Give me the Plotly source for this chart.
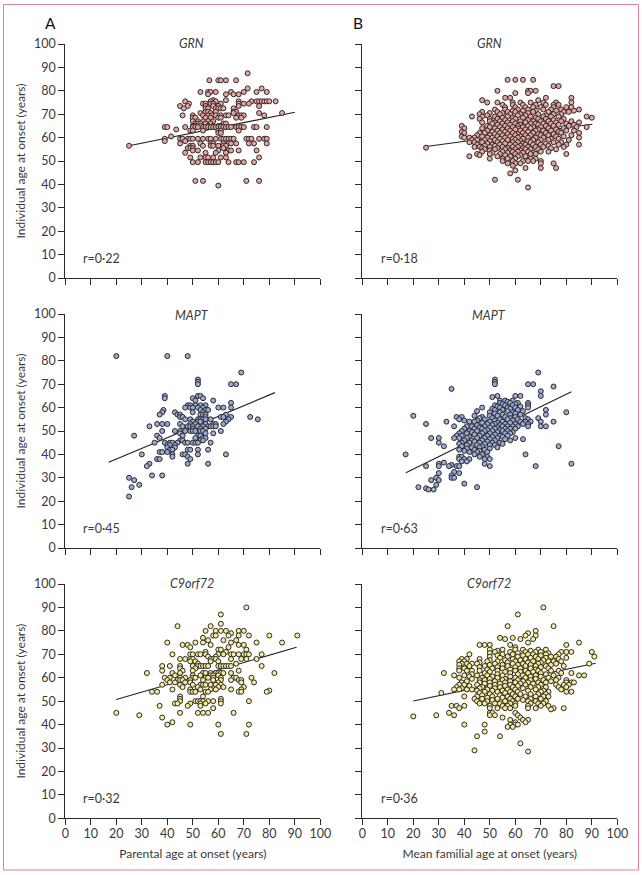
"""Age at onset scatter plots: individual against parental and mean familial age."""

import plotly.graph_objects as go
from plotly.subplots import make_subplots

# Points are kept as (individual age, [parental or familial ages at that age])
grn_parental = [
    (87.5, [71.5]), (84.5, [56.5, 60, 61, 63, 67]), (81, [71.5, 77]),
    (79.5, [53, 56, 57, 59, 65, 70, 75, 79]), (78.5, [56, 63, 66, 68]), (76, [58, 63]),
    (75.5, [47, 57, 59, 68, 73, 75, 76, 77, 78, 79, 80, 82.5]),
    (74.5, [48.5, 54, 55, 57, 58, 61, 68, 70, 72]), (73.5, [45, 48, 55, 58, 60, 68, 76]),
    (72.5, [46.5, 55, 56, 59, 60, 61, 62, 66]), (71, [55, 56, 59, 66, 67]),
    (70.5, [53, 57, 66, 76, 85]),
    (69.5, [46, 50, 54, 56, 57.5, 59, 61, 63, 64, 68, 69, 70, 78]),
    (68.5, [50, 51, 55, 57, 60, 61, 67, 69]), (67, [50, 52, 54, 56, 58]),
    (66, [51, 52, 53, 55, 57, 62, 63]), (65, [50, 51, 53, 56, 58, 60, 61]),
    (64.5, [39, 40, 47, 50, 51, 52, 54, 55, 56, 57, 58, 59, 60, 61, 62, 63, 64, 65, 67,
            68, 69, 70, 74, 75, 79]),
    (63.5, [43.5]), (63, [49, 50, 54, 60, 61, 68]), (62, [60, 61]), (60.5, [41.5]),
    (59.5, [39, 45, 46, 48, 49, 50, 52, 54, 56, 57, 59, 61, 62, 63, 64, 65, 66, 71, 72,
            73, 76, 78, 79]),
    (58.5, [39, 47]), (57.5, [45, 53, 57, 58, 62, 64, 65, 67, 72, 74, 79]),
    (56.5, [25, 49, 50, 54, 57, 58, 60, 62, 63]), (55.5, [48, 49, 50, 62]),
    (54.5, [50, 52, 60, 64, 65, 68, 75]), (53.5, [47, 55, 59, 63]),
    (51.5, [49, 53, 55, 56, 58, 61, 63, 76]),
    (49.5, [50, 52, 55, 56, 57, 58, 59, 60, 64, 67, 68, 70, 74]),
    (41.5, [51, 54, 71, 76]), (39.5, [60]),
]
grn_familial = [
    (84.7, [57, 60, 63, 67]), (82, [75, 77]), (80, [53, 65, 66, 68]), (79, [60, 65]),
    (77, [56, 58, 72, 82]), (76, [47, 69]), (75, [49, 53, 59, 62, 66, 71, 76, 82]),
    (74, [55, 59, 63, 68, 72, 75, 77]), (73, [56, 60, 64, 67, 70, 75, 80, 82]),
    (72, [52, 56, 61, 65, 71, 74, 78, 85]), (71.5, [59, 63, 68, 76, 83]),
    (71, [47, 53, 57, 60, 67, 73, 79, 81]), (70.5, [50, 55, 65]),
    (70, [46, 54, 58, 62, 69, 75, 78]), (69.5, [49, 61, 64, 72]),
    (69, [43, 47, 52, 57, 66, 71, 74, 77, 88]), (68.5, [55, 59, 63, 68, 90]),
    (68, [46, 50, 53, 60, 69, 72, 79]), (67.5, [56, 65, 75]),
    (67, [50, 54, 59, 62, 67, 70, 73, 78, 82]), (66.5, [47, 52, 57, 64, 76, 85]),
    (66, [51, 55, 60, 66, 68, 71, 74, 80]), (65.5, [53, 58, 62, 69, 77, 83]),
    (65, [39, 49, 56, 61, 65, 72, 75, 81]), (64.5, [50, 54, 59, 63, 67, 70, 84, 88]),
    (64, [40, 47, 52, 57, 61, 66, 73, 79]), (63.5, [55, 60, 64, 69, 76]),
    (63, [49, 53, 58, 62, 68, 71, 74, 80, 83]), (62.5, [39, 51, 56, 65, 77]),
    (62, [40, 46, 48, 54, 59, 63, 67, 72, 78, 85]), (61.5, [52, 57, 61, 69, 75]),
    (61, [45, 50, 55, 60, 64, 66, 70, 73, 82]), (60.5, [39, 47, 53, 58, 62, 76, 79]),
    (60, [40, 42, 44, 49, 51, 56, 61, 65, 68, 71, 85]), (59.5, [54, 59, 63, 74, 77]),
    (59, [43, 45, 48, 52, 57, 60, 67, 70, 73, 81]), (58.5, [50, 55, 62, 65]),
    (58, [42, 44, 47, 53, 59, 61, 66, 69, 75, 78]), (57.5, [49, 56, 63, 72]),
    (57, [45, 51, 54, 58, 60, 64, 67, 70, 77, 80, 85]), (56.5, [48, 52, 62, 73]),
    (56, [44, 46, 50, 55, 59, 61, 65, 68, 71, 79]), (55.7, [25]),
    (55.5, [47, 53, 57, 63, 74]), (55, [48, 52, 56, 60, 64, 66, 69, 76]),
    (54.5, [50, 58, 62]), (54, [47, 55, 59, 61, 65, 70, 73]), (53.5, [51, 57, 63, 67]),
    (53, [45, 50, 54, 60, 66, 68, 80]), (52.5, [46, 56, 62]), (52, [42, 53, 58, 61, 64]),
    (51, [50, 55, 57, 60, 66, 68]), (50, [55, 59, 63, 65, 67, 70]),
    (49, [57, 60, 62, 70, 75]), (48, [59]), (47, [64, 70, 76]), (46, [60]), (44.7, [58]),
    (42, [52, 61]), (38.7, [65]),
]
mapt_parental = [
    (82, [20, 40, 48]), (75, [69]), (72, [52]), (71, [52]), (70, [52, 65, 67]),
    (65, [39, 52, 53]), (64, [39, 50, 54]), (63, [51, 58]), (62, [65]),
    (61, [48, 49, 51, 53, 55]), (60, [47, 49, 50, 52, 54, 60, 62, 65]),
    (59, [38.5, 53, 55, 56]), (58, [38, 43, 50, 54]), (57, [37, 44, 45, 53, 54, 55, 63]),
    (56, [45, 46, 55, 61, 62, 65, 72.5]), (55, [47, 49, 52, 53, 54, 55, 57, 64, 75.5]),
    (54, [50, 52, 53, 63]), (53, [36, 38, 40, 45, 49, 51, 55, 58, 59, 62]),
    (52, [33, 46, 48, 49, 50, 52, 54, 56, 57, 58, 59]), (51, [50, 53, 55]),
    (50, [38, 43, 45, 47, 49, 50, 51, 53, 54, 61]), (49, [45, 55, 58]),
    (48, [27, 36, 46, 52, 53]), (47, [37, 51, 54, 55]), (46, [45, 46, 53, 54]),
    (45, [35, 39, 41, 42, 44, 47, 48, 50, 51, 52, 57]), (44, [40, 41, 43]), (43, [40, 43]),
    (42, [41, 42, 48, 49, 52, 56]), (41, [37, 38, 40]), (40, [30, 42, 46, 47, 52, 63]),
    (39, [42, 48]), (38, [36, 37, 49]), (36, [33, 48, 56]), (35, [32]), (31, [34, 38]),
    (30, [25]), (29, [27]), (27, [29]), (26, [26]), (22, [25]),
]
mapt_familial = [
    (75, [69]), (72, [52]), (71, [52]), (70, [52, 65, 67]), (69, [75]), (68, [35]), (67, [70]),
    (65, [53, 60, 62, 70]), (64.5, [51]), (63, [54, 56, 59]), (62.5, [57]),
    (62, [54, 58, 61, 65]), (61.5, [55, 60]), (61, [52, 56, 59, 65]), (60.5, [53, 62]),
    (60, [47, 54, 57, 60, 65]), (59.5, [51, 58]), (59, [52, 55, 61, 72]),
    (58.5, [45, 57, 63]), (58, [50, 54, 59, 80]), (57.5, [52, 60]), (57, [55, 58, 62, 72]),
    (56.5, [20, 44, 50, 53]), (56, [37, 39, 47, 56, 60]), (55.5, [46, 51, 58, 64, 69]),
    (55, [38, 48, 54, 57, 61, 65]), (54.5, [40, 45, 52, 59]),
    (54, [33, 42, 44, 50, 55, 62, 64, 66, 70, 75]), (53.5, [47, 53, 58]),
    (53, [25, 49, 52, 56, 60, 63, 65]), (52.5, [45, 51, 54]),
    (52, [36, 41, 43, 48, 55, 57, 59, 61, 65, 70, 72]), (51.5, [46, 50, 53]),
    (51, [40, 44, 47, 52, 56, 58, 60]), (50.5, [49, 54]), (50, [39, 42, 45, 48, 51, 55, 57]),
    (49.5, [43, 53, 59]), (49, [38, 41, 47, 50, 56, 58]), (48.5, [44, 52]),
    (48, [37, 39, 46, 49, 54, 57]), (47.5, [42, 51, 55]),
    (47, [27, 30, 36, 38, 41, 45, 48, 53, 60]), (46.5, [50, 56, 63]),
    (46, [40, 43, 47, 52, 58]), (45.5, [44, 49]), (45, [30, 39, 42, 46, 51, 54]),
    (44.5, [38, 48, 55]), (44, [41, 45, 50, 52]), (43.5, [32, 39, 47, 77]), (43, [43, 46, 53]),
    (42.5, [41, 50]), (42, [38, 44, 48]), (41.5, [40, 46]), (41, [42, 45, 49]),
    (40, [17, 44, 47, 64]), (39, [38, 39, 46, 49]), (38, [38, 40, 42, 48, 50]), (37, [39, 41]),
    (36.5, [32]), (36, [30, 48, 82]), (35.5, [35]), (35, [25, 30, 34, 37, 38, 50, 68]),
    (32.5, [36]), (32, [30, 38]), (31, [35]), (30, [29, 35, 36]), (29, [27, 30]),
    (27.5, [40]), (27, [29]), (26, [22, 45]), (25.5, [25]), (25, [26, 28]),
]
c9_parental = [
    (90, [71]), (87, [61]), (83, [61]), (82, [44, 57]), (80, [55, 59, 61, 63, 68, 70]),
    (79, [65]), (78, [58, 59, 64, 68, 72, 80, 91]), (77, [54]), (76, [56, 62, 67]),
    (75, [40, 51, 54, 65, 75, 85]), (74, [46, 48, 57, 68, 70]), (73, [49, 64]),
    (72, [60, 61, 71]), (71, [55, 63]),
    (70, [42, 49, 50, 52, 53, 55, 60, 62, 65, 66, 68, 70, 71, 72, 77]), (69, [56, 59]),
    (68, [45, 47, 49, 50, 57, 58, 59, 65, 69, 71, 75]), (67, [49, 51, 57, 60]),
    (66, [52, 67]), (65, [38, 41, 45, 50, 52, 53, 54, 55, 56, 60, 61, 62, 63, 64, 65, 77]),
    (64, [45, 51]), (63, [38, 46, 50, 68]),
    (62, [32, 42, 45, 54, 55, 57, 59, 60, 61, 62, 65, 82]), (61, [43, 50, 53, 57, 58, 60]),
    (60, [39, 41, 45, 47, 50, 51, 55, 56, 58, 61, 66, 67, 73]),
    (59, [40, 44, 45, 46, 49, 54, 58, 61, 65, 68, 69]), (58, [41, 43, 47, 49, 60, 69, 74]),
    (57, [38, 45, 50, 53, 54, 55, 57, 59, 61]), (56, [46, 52, 60, 62, 70]),
    (55, [42, 49, 53, 57, 59, 65, 69]), (54.5, [80]),
    (54, [34, 36, 49, 50, 51, 55, 56, 68, 69, 79]), (52, [45, 54]), (51, [45, 61]),
    (50, [45, 51, 52, 53, 54, 56, 58, 61, 72]), (49, [43, 44, 49, 53, 55, 61]),
    (48, [37, 48, 53]), (47, [58]), (45, [20, 45, 52, 54, 56, 66]), (44, [29]), (43, [38]),
    (41, [42]), (40, [40, 49, 60, 72]), (36, [61, 71]),
]
c9_familial = [
    (90, [71]), (87, [61]), (82, [57, 75]), (80, [68]), (79, [65]), (78, [64, 68]),
    (77, [54, 59]), (76.5, [56, 62, 67]), (75, [65, 85]), (74, [46, 48, 50, 58, 80]),
    (73, [60]), (72, [50, 55, 60, 63, 69, 72]), (71.5, [53, 66]),
    (71, [52, 58, 64, 68, 70, 78, 80, 82, 90]), (70.5, [50, 61, 73]),
    (70, [42, 55, 59, 65, 67, 72, 77]), (69.5, [53, 63, 70]),
    (69, [50, 57, 61, 68, 74, 76, 91]), (68.5, [54, 66, 72, 80]),
    (68, [39, 41, 46, 59, 64, 69, 77]), (67.5, [50, 56, 62, 71]),
    (67, [38, 40, 49, 53, 60, 67, 73, 75, 78]), (66.5, [46, 57, 65, 70]),
    (66, [39, 41, 43, 45, 52, 59, 63, 69, 76, 89]), (65.5, [38, 50, 55, 61, 66, 74]),
    (65, [42, 48, 57, 64, 68, 72, 79]), (64.5, [46, 53, 60, 70]),
    (64, [38, 40, 51, 55, 62, 66, 73]), (63.5, [49, 58, 68]),
    (63, [38, 41, 43, 46, 53, 60, 64, 69, 74, 77]), (62.5, [50, 56, 62, 67]),
    (62, [32, 48, 58, 65, 70, 78, 82]), (61.5, [43, 53, 61, 72]),
    (61, [36, 40, 45, 49, 55, 63, 68, 75, 85, 87]), (60.5, [42, 51, 58, 66, 70]),
    (60, [38, 47, 53, 60, 64, 73, 77]), (59.5, [43, 50, 56, 68]),
    (59, [46, 48, 55, 61, 66, 71, 76, 80]), (58.5, [41, 52, 58, 63, 74]),
    (58, [39, 46, 50, 56, 60, 65, 69, 72, 80, 82, 83]), (57.5, [48, 54, 62, 67]),
    (57, [38, 40, 45, 52, 58, 64, 70, 76, 79, 81]), (56.5, [42, 50, 56, 61]),
    (56, [37, 47, 54, 59, 66, 69, 72, 77, 80]), (55.5, [39, 46, 52, 63]),
    (55, [36, 38, 41, 43, 49, 57, 60, 68, 78]), (54.5, [45, 51, 55, 65, 71]),
    (54, [48, 53, 58, 61, 70, 73, 80, 82]), (53.5, [31, 46, 56]),
    (53, [50, 59, 62, 66, 69, 72]), (52.5, [47, 54]), (52, [40, 45, 51, 57, 60, 64, 68, 71, 73]),
    (51.5, [49, 55]), (51, [44, 47, 53, 58, 61, 66, 70]), (50.5, [51, 63]),
    (50, [45, 49, 56, 59, 65, 68, 72]), (49, [46, 48, 52, 54, 58, 60, 66, 69, 71]),
    (48, [35, 37, 40, 50, 55, 57, 60, 65, 70, 73]), (47, [38, 50, 53, 56, 58, 65, 68, 75, 79]),
    (46.5, [74]), (45, [34, 50, 51, 60]), (44, [29, 36, 50, 52, 61]), (43.5, [20]),
    (43, [55, 62]), (42, [58, 63, 65]), (41, [60, 64]), (40, [40, 48, 58, 60, 61]),
    (39, [57, 59]), (37, [48]), (35, [45, 54]), (32, [62]), (29, [44]), (28.5, [65]),
]

# Fitted lines, start and end of each
grn_parental_line = ([25, 90], [56.5, 70.8])
grn_familial_line = ([25, 90.2], [56.2, 65.7])
mapt_parental_line = ([17, 82.2], [36.6, 66.4])
mapt_familial_line = ([17.1, 82], [32.2, 66.8])
c9_parental_line = ([20, 90.7], [50.7, 73])
c9_familial_line = ([20, 91.5], [50.1, 66.2])

ticks = list(range(0, 101, 10))
r_labels = ["r=0·22", "r=0·18", "r=0·45", "r=0·63", "r=0·32", "r=0·36"]
gene_labels = ["<i>GRN</i>", "<i>MAPT</i>", "<i>C9orf72</i>"]

WIDTH = 642
HEIGHT = 875
FONT = "Lato"
TEXT = "#3a3a3a"
LINE = "#2b2b2b"
PINK = "#E8A5A0"
BLUE = "#9AA9D6"
YELLOW = "#F7EB9C"

# pixel boxes of the panels
x_boxes = [(65.3, 320.3), (362.3, 617.3)]
y_boxes = [(44, 278), (314, 548), (584, 818.3)]


def paper_x(px):
    return px / WIDTH


def paper_y(px):
    return 1 - px / HEIGHT


def add_panel(fig, rows, line, colour, row, col):
    xs = [x for y, group in rows for x in group]
    ys = [y for y, group in rows for x in group]
    # line first so that the points sit on top of it
    fig.add_trace(
        go.Scatter(x=line[0], y=line[1], mode="lines", line=dict(color="#222222", width=1.1),
                   showlegend=False, hoverinfo="skip"),
        row=row, col=col,
    )
    fig.add_trace(
        go.Scatter(x=xs, y=ys, mode="markers", showlegend=False,
                   marker=dict(color=colour, size=5, line=dict(color="#2a2a2a", width=1))),
        row=row, col=col,
    )


fig = make_subplots(rows=3, cols=2)

add_panel(fig, grn_parental, grn_parental_line, PINK, 1, 1)
add_panel(fig, grn_familial, grn_familial_line, PINK, 1, 2)
add_panel(fig, mapt_parental, mapt_parental_line, BLUE, 2, 1)
add_panel(fig, mapt_familial, mapt_familial_line, BLUE, 2, 2)
add_panel(fig, c9_parental, c9_parental_line, YELLOW, 3, 1)
add_panel(fig, c9_familial, c9_familial_line, YELLOW, 3, 2)

for row in range(1, 4):
    for col in range(1, 3):
        x0, x1 = x_boxes[col - 1]
        y0, y1 = y_boxes[row - 1]
        fig.update_xaxes(
            domain=[paper_x(x0), paper_x(x1)], range=[0, 100], tickvals=ticks,
            showgrid=False, zeroline=False, showline=True, linecolor=LINE, linewidth=1,
            ticks="outside", ticklen=6, tickwidth=1, tickcolor=LINE, automargin=False,
            ticklabelstandoff=-2,
            showticklabels=row == 3, tickfont=dict(family=FONT, size=12.5, color=TEXT),
            row=row, col=col,
        )
        fig.update_yaxes(
            domain=[paper_y(y1), paper_y(y0)], range=[0, 100], tickvals=ticks,
            showgrid=False, zeroline=False, showline=True, linecolor=LINE, linewidth=1,
            ticks="outside", ticklen=6, tickwidth=1, tickcolor=LINE, automargin=False,
            showticklabels=col == 1, tickfont=dict(family=FONT, size=12.5, color=TEXT),
            row=row, col=col,
        )

# Axis titles
title_font = dict(family=FONT, size=12, color=TEXT)
fig.update_xaxes(title_text="Parental age at onset (years)", title_font=title_font,
                 title_standoff=9, row=3, col=1)
fig.update_xaxes(title_text="Mean familial age at onset (years)", title_font=title_font,
                 title_standoff=9, row=3, col=2)
for row in range(1, 4):
    fig.update_yaxes(title_text="Individual age at onset (years)", title_font=title_font,
                     title_standoff=5, row=row, col=1)


def add_text(text, px, py, size=12.5, color=TEXT, xanchor="center"):
    fig.add_annotation(text=text, x=paper_x(px), y=paper_y(py), xref="paper", yref="paper",
                       showarrow=False, xanchor=xanchor, yanchor="middle",
                       font=dict(family=FONT, size=size, color=color))


add_text("A", 50, 23, size=15.5, color="#111111")
add_text("B", 358, 23, size=15.5, color="#111111")

for row, label in enumerate(gene_labels):
    label_y = [43, 315, 583][row]
    add_text(label, 192, label_y)
    add_text(label, 489, label_y)

r_y = [258, 528, 798]
for i, label in enumerate(r_labels):
    add_text(label, [81, 379][i % 2], r_y[i // 2], xanchor="left")

# Page border
fig.add_shape(type="rect", xref="paper", yref="paper", x0=paper_x(3.5), x1=paper_x(638.5),
              y0=paper_y(870), y1=paper_y(4.5), line=dict(color="#E87BA0", width=1))

fig.update_layout(width=WIDTH, height=HEIGHT, margin=dict(l=0, r=0, t=0, b=0),
                  plot_bgcolor="white", paper_bgcolor="white")

# default page margin of the browser would push the figure off the reference position
fig.write_html("out.html", config={"displayModeBar": False},
               post_script="document.body.style.margin = '0';")
